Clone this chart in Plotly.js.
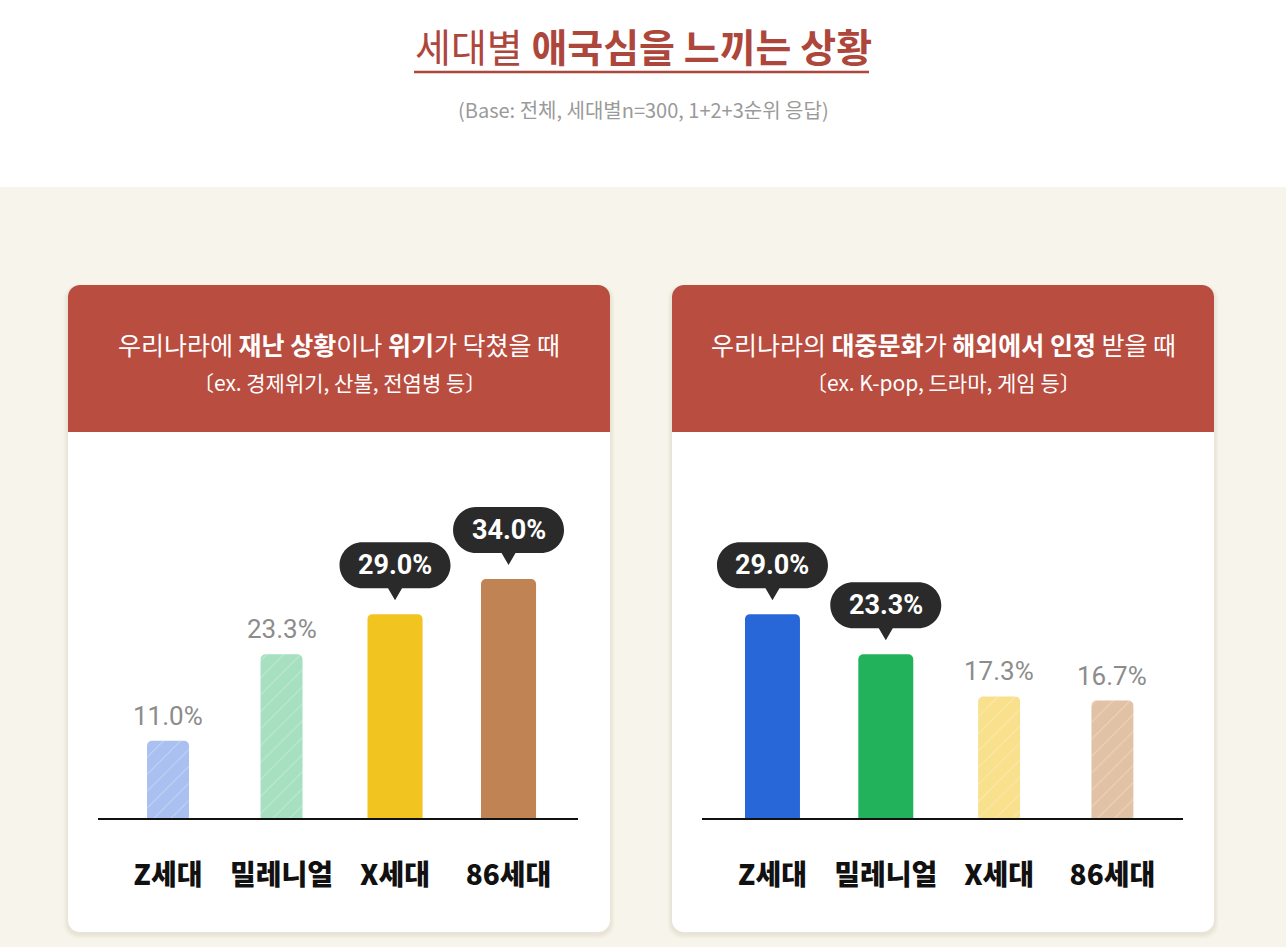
<!DOCTYPE html>
<html><head><meta charset="utf-8">
<script src="https://cdn.plot.ly/plotly-3.0.1.min.js"></script>
<style>html,body{margin:0;padding:0;background:#fff;}#chart{width:1286px;height:947px;}</style>
</head><body><div id="chart"></div>
<script>
const W = 1286, H = 947;

// ---- data ----
const categories = ['Z세대', '밀레니얼', 'X세대', '86세대'];
const disasterValues = [11.0, 23.3, 29.0, 34.0];
const cultureValues = [29.0, 23.3, 17.3, 16.7];
const disasterHighlight = [false, false, true, true];
const cultureHighlight = [true, true, false, false];
const disasterColors = ['#a9c0f0', '#a6e0c0', '#f1c41f', '#c08354'];
const cultureColors = ['#2867d8', '#22b25c', '#f8e08c', '#e2c2a5'];
const mainTitle = '세대별 <b>애국심을 느끼는 상황</b>';
const subTitle = '(Base: 전체, 세대별n=300, 1+2+3순위 응답)';
const disasterHead1 = '우리나라에 <b>재난 상황</b>이나 <b>위기</b>가 닥쳤을 때';
const disasterHead2 = '〔ex. 경제위기, 산불, 전염병 등〕';
const cultureHead1 = '우리나라의 <b>대중문화</b>가 <b>해외에서 인정</b> 받을 때';
const cultureHead2 = '〔ex. K-pop, 드라마, 게임 등〕';

// ---- helpers ----
const KR = '"Noto Sans CJK KR", "Noto Sans", sans-serif';
const NUM = 'Roboto, "Noto Sans", sans-serif';
const fx = x => x / W;
const fy = y => 1 - y / H;
const P = (x, y) => fx(x) + ',' + fy(y);
const K = 0.5523;
function rrPath(x0, y0, x1, y1, r, topOnly) {
  const k = K * r;
  let s = 'M' + P(x0 + r, y0) + ' L' + P(x1 - r, y0) +
    ' C' + P(x1 - r + k, y0) + ' ' + P(x1, y0 + r - k) + ' ' + P(x1, y0 + r);
  if (topOnly) {
    s += ' L' + P(x1, y1) + ' L' + P(x0, y1);
  } else {
    s += ' L' + P(x1, y1 - r) + ' C' + P(x1, y1 - r + k) + ' ' + P(x1 - r + k, y1) + ' ' + P(x1 - r, y1) +
      ' L' + P(x0 + r, y1) + ' C' + P(x0 + r - k, y1) + ' ' + P(x0, y1 - r + k) + ' ' + P(x0, y1 - r);
  }
  s += ' L' + P(x0, y0 + r) + ' C' + P(x0, y0 + r - k) + ' ' + P(x0 + r - k, y0) + ' ' + P(x0 + r, y0) + ' Z';
  return s;
}
function bubblePath() {
  const hw = 55.5, r = 23, yb = 26, yt = 72, ym = 49, tip = 14, ph = 7, k = K * r;
  const a = hw - r;
  return 'M' + (-a) + ',' + yb + ' L' + (-ph) + ',' + yb + ' L0,' + tip + ' L' + ph + ',' + yb +
    ' L' + a + ',' + yb +
    ' C' + (a + k) + ',' + yb + ' ' + hw + ',' + (ym - k) + ' ' + hw + ',' + ym +
    ' C' + hw + ',' + (ym + k) + ' ' + (a + k) + ',' + yt + ' ' + a + ',' + yt +
    ' L' + (-a) + ',' + yt +
    ' C' + (-a - k) + ',' + yt + ' ' + (-hw) + ',' + (ym + k) + ' ' + (-hw) + ',' + ym +
    ' C' + (-hw) + ',' + (ym - k) + ' ' + (-a - k) + ',' + yb + ' ' + (-a) + ',' + yb + ' Z';
}

const shapes = [];
const annotations = [];

// page background
shapes.push({type: 'rect', xref: 'paper', yref: 'paper', x0: 0, x1: 1, y0: 0, y1: fy(187),
  fillcolor: '#f7f4ec', line: {width: 0}, layer: 'below'});

// cards
function card(x0, x1, head1, head2) {
  const y0 = 285, y1 = 932, hb = 432;
  for (let i = 3; i >= 1; i--) {
    shapes.push({type: 'path', xref: 'paper', yref: 'paper', layer: 'below',
      path: rrPath(x0 - i * 1.5, y0 - i * 0.8 + 2, x1 + i * 1.5, y1 + i * 1.5 + 2, 12 + i),
      fillcolor: 'rgba(120,100,60,0.035)', line: {width: 0}});
  }
  shapes.push({type: 'path', xref: 'paper', yref: 'paper', layer: 'below',
    path: rrPath(x0, y0, x1, y1, 12), fillcolor: '#ffffff', line: {width: 0}});
  shapes.push({type: 'path', xref: 'paper', yref: 'paper', layer: 'below',
    path: rrPath(x0, y0, x1, hb, 12, true), fillcolor: '#b94d40', line: {width: 0}});
  const cx = fx((x0 + x1) / 2);
  annotations.push({xref: 'paper', yref: 'paper', x: cx, y: fy(344), xanchor: 'center', yanchor: 'middle',
    text: head1, showarrow: false, font: {family: KR, size: 25, color: '#ffffff'}});
  annotations.push({xref: 'paper', yref: 'paper', x: cx, y: fy(382), xanchor: 'center', yanchor: 'middle',
    text: head2, showarrow: false, font: {family: KR, size: 21, color: '#ffffff'}});
}
card(68, 610, disasterHead1, disasterHead2);
card(672, 1214, cultureHead1, cultureHead2);

// title
annotations.push({xref: 'paper', yref: 'paper', x: 0.5, y: fy(45), xanchor: 'center', yanchor: 'middle',
  text: mainTitle, showarrow: false, font: {family: KR, size: 39, color: '#ad463b'}});
shapes.push({type: 'line', xref: 'paper', yref: 'paper', x0: fx(414), x1: fx(869), y0: fy(72), y1: fy(72),
  line: {color: '#ad463b', width: 2.5}});
annotations.push({xref: 'paper', yref: 'paper', x: 0.5, y: fy(110), xanchor: 'center', yanchor: 'middle',
  text: subTitle, showarrow: false, font: {family: KR, size: 20, color: '#9a9a9a'}});

// bars + labels
const idx = categories.map((c, i) => i);
function addLabels(values, highlight, xr, yr) {
  values.forEach((v, i) => {
    const txt = v.toFixed(1) + '%';
    if (highlight[i]) {
      shapes.push({type: 'path', xref: xr, yref: yr, xsizemode: 'pixel', ysizemode: 'pixel',
        xanchor: i, yanchor: v, path: bubblePath(), fillcolor: '#2a2a2a', line: {width: 0}});
      annotations.push({xref: xr, yref: yr, x: i, y: v, yshift: 49, xanchor: 'center', yanchor: 'middle',
        text: '<b>' + txt + '</b>', showarrow: false, font: {family: NUM, size: 27, color: '#ffffff'}});
    } else {
      annotations.push({xref: xr, yref: yr, x: i, y: v, yshift: 25, xanchor: 'center', yanchor: 'middle',
        text: txt, showarrow: false, font: {family: NUM, size: 26, color: '#8c8c8c'}});
    }
  });
}
function barTraces(values, highlight, colors, xa, ya) {
  const widths = highlight.map(h => h ? 0.485 : 0.37);
  return [
    {type: 'bar', x: idx, y: values, xaxis: xa, yaxis: ya, width: widths,
      marker: {color: colors, line: {width: 0}}, hoverinfo: 'skip', showlegend: false},
    {type: 'bar', x: idx, y: values.map((v, i) => highlight[i] ? null : v), xaxis: xa, yaxis: ya, width: widths,
      marker: {color: 'rgba(0,0,0,0)', line: {width: 0},
        pattern: {shape: '/', fillmode: 'overlay', fgcolor: '#ffffff', fgopacity: 0.5, size: 12, solidity: 0.07}},
      hoverinfo: 'skip', showlegend: false}
  ];
}
addLabels(disasterValues, disasterHighlight, 'x', 'y');
addLabels(cultureValues, cultureHighlight, 'x2', 'y2');

const yDom = [fy(818), fy(450)];
const yRange = [0, 52.35];
function xAxis(dom, range, anchor) {
  return {domain: dom, range: range, anchor: anchor, tickvals: idx, ticktext: categories,
    tickfont: {family: KR, size: 28, color: '#111111', weight: 800},
    showline: true, linecolor: '#111111', linewidth: 2, ticks: '', showgrid: false, zeroline: false,
    ticklabelstandoff: 31, fixedrange: true};
}
const layout = {
  width: W, height: H, margin: {l: 0, r: 0, t: 0, b: 0},
  paper_bgcolor: '#ffffff', plot_bgcolor: 'rgba(0,0,0,0)',
  barmode: 'overlay', barcornerradius: 5, showlegend: false,
  xaxis: xAxis([fx(98), fx(578)], [-0.617, 3.612], 'y'),
  yaxis: {domain: yDom, range: yRange, anchor: 'x', visible: false, fixedrange: true},
  xaxis2: xAxis([fx(702), fx(1183)], [-0.622, 3.623], 'y2'),
  yaxis2: {domain: yDom, range: yRange, anchor: 'x2', visible: false, fixedrange: true},
  shapes: shapes, annotations: annotations
};
Plotly.newPlot('chart',
  barTraces(disasterValues, disasterHighlight, disasterColors, 'x', 'y')
    .concat(barTraces(cultureValues, cultureHighlight, cultureColors, 'x2', 'y2')),
  layout, {staticPlot: true, displayModeBar: false});
</script></body></html>
